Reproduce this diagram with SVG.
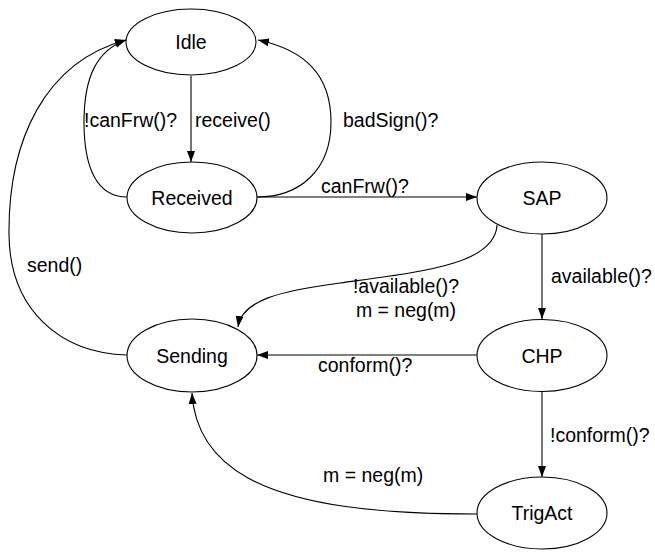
<svg xmlns="http://www.w3.org/2000/svg" width="655" height="552" viewBox="0 0 655 552">
<style>
.n ellipse{fill:#fff;stroke:#000;stroke-width:1.1}
.n text{font-family:"Liberation Sans",Arial,sans-serif;font-size:19.5px;text-anchor:middle;fill:#000}
.e path{fill:none;stroke:#000;stroke-width:1.1}
.l{font-family:"Liberation Sans",Arial,sans-serif;font-size:19.5px;fill:#000}
</style>
<defs>
<marker id="ah" markerUnits="userSpaceOnUse" markerWidth="12" markerHeight="10" refX="11" refY="4" orient="auto" viewBox="0 0 12 8">
<path d="M0,0 L11,4 L0,8 z" fill="#000"/>
</marker>
</defs>
<rect width="655" height="552" fill="#fff"/>
<g id="edges" class="e">
<path d="M191,76 L191,162" marker-end="url(#ah)"/>
<path d="M127,197 C97,197 84,168 84,122 C84,75 98,50 126,40" marker-end="url(#ah)"/>
<path d="M257,197 C300,197 331,170 331,122 C331,75 305,50 258,40" marker-end="url(#ah)"/>
<path d="M257,197 L477,197" marker-end="url(#ah)"/>
<path d="M127,355 C60,353 10,310 9,235 C8,140 45,62 126,40" marker-end="url(#ah)"/>
<path d="M542,234 L542,319" marker-end="url(#ah)"/>
<path d="M497,225 C495,265 420,272 340,283 C280,291 242,300 238,327" marker-end="url(#ah)"/>
<path d="M477,355 L257,355" marker-end="url(#ah)"/>
<path d="M542,391 L542,477" marker-end="url(#ah)"/>
<path d="M477,514 C380,514 300,506 248,478 C212,458 194,428 192,393" marker-end="url(#ah)"/>
</g>
<g id="labels">
<text class="l" x="84" y="127">!canFrw()?</text>
<text class="l" x="195" y="127">receive()</text>
<text class="l" x="343" y="127">badSign()?</text>
<text class="l" x="321" y="193">canFrw()?</text>
<text class="l" x="27" y="272">send()</text>
<text class="l" x="551" y="283">available()?</text>
<text class="l" x="406" y="293" text-anchor="middle">!available()?</text>
<text class="l" x="406" y="317" text-anchor="middle">m = neg(m)</text>
<text class="l" x="318" y="372">conform()?</text>
<text class="l" x="550" y="442">!conform()?</text>
<text class="l" x="323" y="482">m = neg(m)</text>
</g>
<g id="Idle" class="n"><ellipse cx="191" cy="42" rx="65" ry="33"/><text x="191" y="49">Idle</text></g>
<g id="Received" class="n"><ellipse cx="192" cy="197.5" rx="65" ry="35.5"/><text x="192" y="204.5">Received</text></g>
<g id="SAP" class="n"><ellipse cx="542" cy="198" rx="65" ry="36"/><text x="542" y="205">SAP</text></g>
<g id="Sending" class="n"><ellipse cx="192" cy="355.5" rx="65" ry="36.5"/><text x="192" y="362.5">Sending</text></g>
<g id="CHP" class="n"><ellipse cx="542" cy="355.5" rx="65" ry="36"/><text x="542" y="362.5">CHP</text></g>
<g id="TrigAct" class="n"><ellipse cx="542" cy="513" rx="65" ry="36"/><text x="542" y="520">TrigAct</text></g>
</svg>
